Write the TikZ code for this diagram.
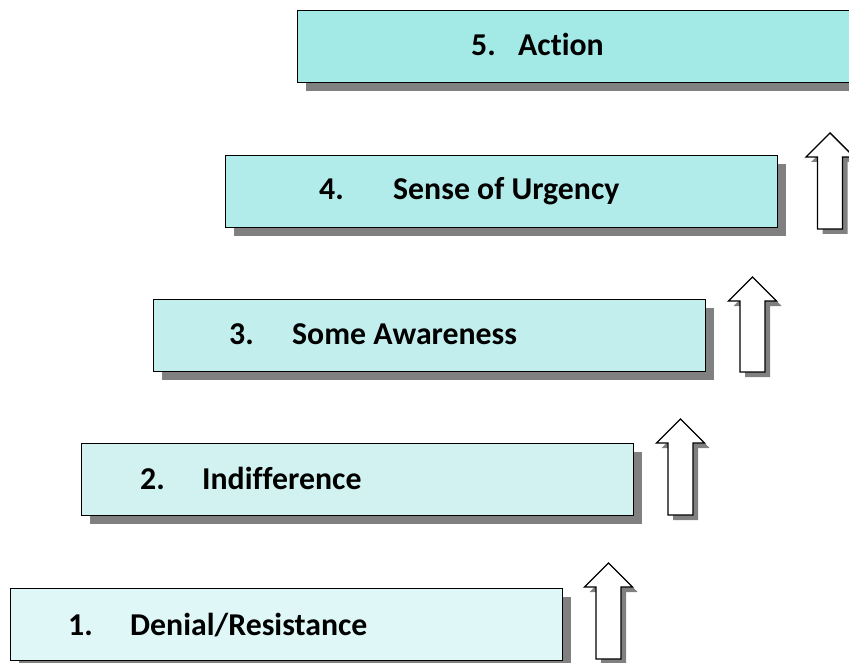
\documentclass[tikz,border=0pt]{standalone}
\usepackage{fontspec}
\setmainfont{Carlito}[Ligatures=NoCommon]
\usetikzlibrary{shadows}
\definecolor{c1}{HTML}{E0F7F7}
\definecolor{c2}{HTML}{D2F2F1}
\definecolor{c3}{HTML}{C2EFEE}
\definecolor{c4}{HTML}{B2ECEA}
\definecolor{c5}{HTML}{A3EAE7}
\definecolor{shadowgray}{HTML}{808080}
\newcommand\myarrow[4]{%
  \fill[shadowgray,shift={(5,5)}] (#1,#2) -- ({#1+24},#3) -- ({#1+12.5},#3) -- ({#1+12.5},#4) -- ({#1-12.5},#4) -- ({#1-12.5},#3) -- ({#1-24},#3) -- cycle;
  \draw[uparrow] (#1,#2) -- ({#1+24},#3) -- ({#1+12.5},#3) -- ({#1+12.5},#4) -- ({#1-12.5},#4) -- ({#1-12.5},#3) -- ({#1-24},#3) -- cycle;}
\begin{document}
\begin{tikzpicture}[x=1pt,y=-1pt,
  stage/.style={draw=black,line width=1.4pt,inner sep=0pt,anchor=north west,minimum height=72pt,
    drop shadow={shadow xshift=8pt,shadow yshift=-8pt,fill=shadowgray,opacity=1}},
  lbl/.style={anchor=base west,inner sep=0pt,font=\fontsize{31.8}{38}\selectfont\bfseries},
  uparrow/.style={draw=black,fill=white,line width=1.4pt,line join=miter}]
\useasboundingbox (0,0) rectangle (849,663);
% boxes
\node[stage,fill=c1,minimum width=552pt] (b1) at (10,588) {};
\node[stage,fill=c2,minimum width=552pt] (b2) at (81,443) {};
\node[stage,fill=c3,minimum width=552pt] (b3) at (153,299) {};
\node[stage,fill=c4,minimum width=552pt] (b4) at (225,155) {};
\node[stage,fill=c5,minimum width=552pt] (b5) at (297,10) {};
% labels
\node[lbl] (t1) at (68,635) {\makebox[62pt][l]{1.}Denial/Resistance};
\node[lbl] (t2) at (140,489) {\makebox[62pt][l]{2.}Indifference};
\node[lbl] (t3) at (229,344) {\makebox[63pt][l]{3.}Some Awareness};
\node[lbl] (t4) at (319,200) {\makebox[74pt][l]{4.}Sense of Urgency};
\node[lbl] (t5) at (471,56) {\makebox[47pt][l]{5.}Action};
% arrows
\myarrow{608.5}{563}{587}{659}
\myarrow{680.5}{419}{443}{515}
\myarrow{752.5}{277}{301}{372}
\myarrow{830}{133}{157}{229}
\end{tikzpicture}
\end{document}
